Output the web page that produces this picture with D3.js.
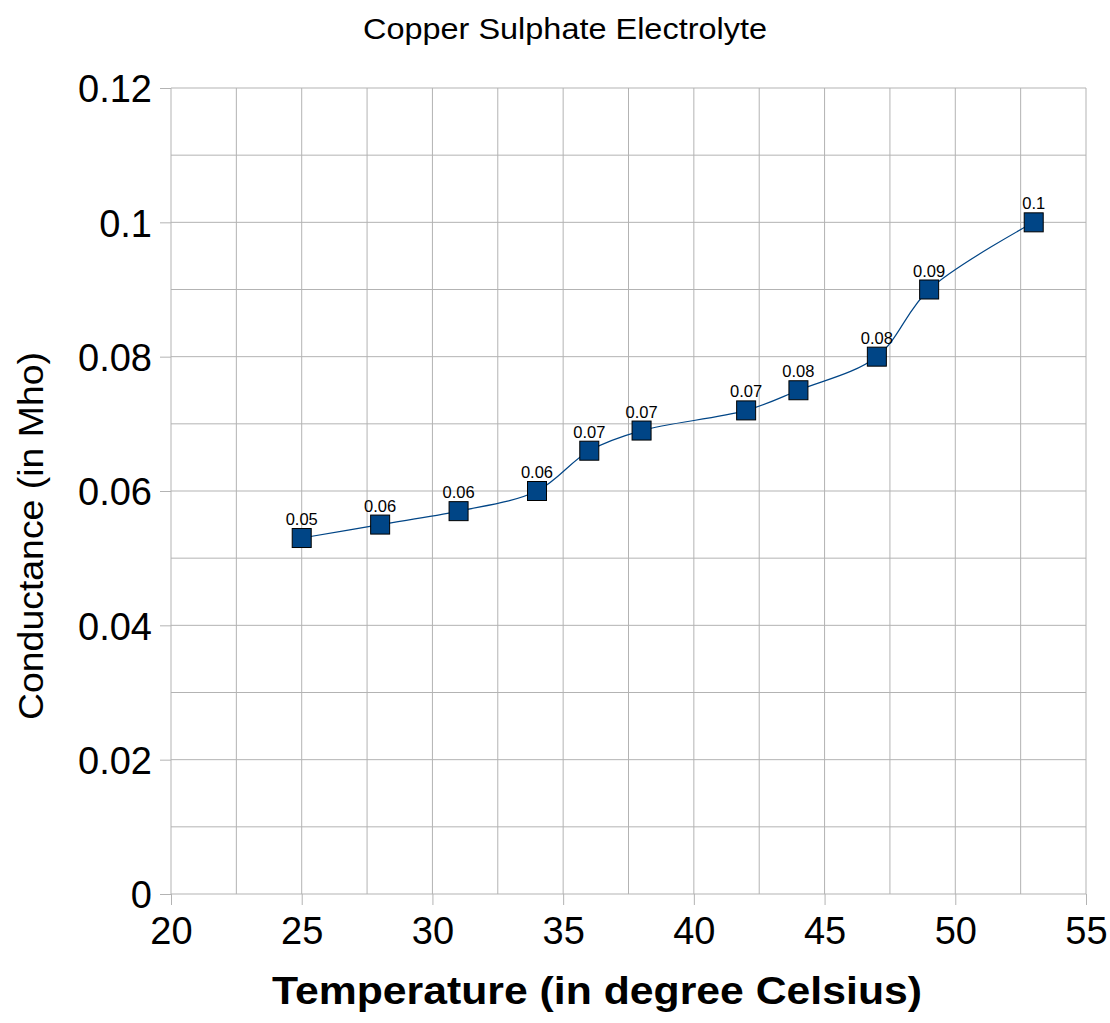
<!DOCTYPE html>
<html>
<head>
<meta charset="utf-8">
<script src="https://cdn.jsdelivr.net/npm/d3@7"></script>
<style>
  body { margin: 0; background: #fff; }
  text { font-family: "Liberation Sans", Arial, sans-serif; }
</style>
</head>
<body>
<svg id="chart" width="1110" height="1023"></svg>
<script>
// Temperature readings and measured conductance
let temperatures = [25, 28, 31, 34, 36, 38, 42, 44, 47, 49, 53];
let conductance = [0.053, 0.055, 0.057, 0.060, 0.066, 0.069, 0.072, 0.075, 0.080, 0.090, 0.100];
let pointLabels = ["0.05", "0.06", "0.06", "0.06", "0.07", "0.07", "0.07", "0.08", "0.08", "0.09", "0.1"];

let xTicks = [20, 25, 30, 35, 40, 45, 50, 55];
let yTicks = [0, 0.02, 0.04, 0.06, 0.08, 0.1, 0.12];

let svg = d3.select("#chart");
let margin = {top: 88, right: 24, bottom: 129, left: 171};
let width = 1110 - margin.left - margin.right,
    height = 1023 - margin.top - margin.bottom;

let x = d3.scaleLinear().domain([20, 55]).range([0, width]);
let y = d3.scaleLinear().domain([0, 0.12]).range([height, 0]);

let plot = svg.append("g")
    .attr("transform", "translate(" + margin.left + "," + margin.top + ")");

// Grid lines (major + minor)
let grid = plot.append("g").attr("class", "grid");
grid.selectAll("line.v")
    .data(d3.range(20, 55.01, 2.5))
    .enter().append("line")
    .attr("x1", d => x(d)).attr("x2", d => x(d))
    .attr("y1", 0).attr("y2", height)
    .attr("stroke", "#b3b3b3").attr("stroke-width", 1);
grid.selectAll("line.h")
    .data(d3.range(0, 0.1201, 0.01))
    .enter().append("line")
    .attr("x1", 0).attr("x2", width)
    .attr("y1", d => y(d)).attr("y2", d => y(d))
    .attr("stroke", "#b3b3b3").attr("stroke-width", 1);

// Axes
let xAxis = plot.append("g")
    .attr("transform", "translate(0," + height + ")")
    .call(d3.axisBottom(x).tickValues(xTicks).tickSize(11).tickPadding(12).tickFormat(d3.format("d")));
let yAxis = plot.append("g")
    .call(d3.axisLeft(y).tickValues(yTicks).tickSize(11).tickPadding(8).tickFormat(d => d === 0 ? "0" : String(+d.toFixed(2))));

[xAxis, yAxis].forEach(a => {
    a.select(".domain").remove();
    a.selectAll(".tick line").attr("stroke", "#b3b3b3");
    a.selectAll(".tick text")
        .attr("fill", "#000")
        .attr("font-size", 38)
        .attr("font-family", "Liberation Sans, Arial, sans-serif");
});
yAxis.selectAll(".tick text").attr("dy", "0.36em");

let points = temperatures.map((t, i) => ({t: t, c: conductance[i], label: pointLabels[i]}));

// Smoothed line
plot.append("path")
    .datum(points)
    .attr("fill", "none")
    .attr("stroke", "#004586")
    .attr("stroke-width", 1.2)
    .attr("d", d3.line().x(d => x(d.t)).y(d => y(d.c)).curve(d3.curveCatmullRom.alpha(0.5)));

// Square markers
let sq = 19;
plot.selectAll("rect.marker")
    .data(points)
    .enter().append("rect")
    .attr("class", "marker")
    .attr("x", d => x(d.t) - sq / 2)
    .attr("y", d => y(d.c) - sq / 2)
    .attr("width", sq).attr("height", sq)
    .attr("fill", "#004586")
    .attr("stroke", "#000")
    .attr("stroke-width", 1);

// Value labels
plot.selectAll("text.value")
    .data(points)
    .enter().append("text")
    .attr("class", "value")
    .attr("x", d => x(d.t))
    .attr("y", d => y(d.c) - 13)
    .attr("text-anchor", "middle")
    .attr("font-size", 16.5)
    .attr("fill", "#000")
    .text(d => d.label);

// Title
svg.append("text")
    .attr("x", 565).attr("y", 39)
    .attr("text-anchor", "middle")
    .attr("font-size", 30)
    .attr("textLength", 404)
    .attr("lengthAdjust", "spacingAndGlyphs")
    .attr("fill", "#000")
    .text("Copper Sulphate Electrolyte");

// Axis titles
svg.append("text")
    .attr("x", 597).attr("y", 1004)
    .attr("text-anchor", "middle")
    .attr("font-size", 39)
    .attr("font-weight", "bold")
    .attr("textLength", 650)
    .attr("lengthAdjust", "spacingAndGlyphs")
    .attr("fill", "#000")
    .text("Temperature (in degree Celsius)");

svg.append("text")
    .attr("transform", "translate(43,536) rotate(-90)")
    .attr("text-anchor", "middle")
    .attr("font-size", 35)
    .attr("textLength", 368)
    .attr("lengthAdjust", "spacingAndGlyphs")
    .attr("fill", "#000")
    .text("Conductance (in Mho)");
</script>
</body>
</html>
